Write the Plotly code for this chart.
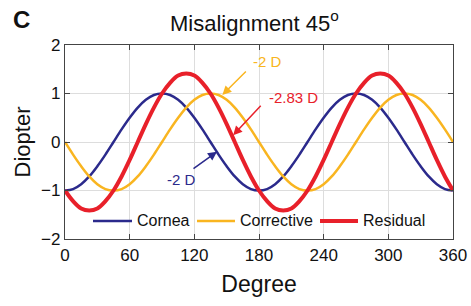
import plotly.graph_objects as go

degree = [0, 7.5, 15, 22.5, 30, 37.5, 45, 52.5, 60, 67.5, 75, 82.5, 90, 97.5, 105, 112.5, 120, 127.5, 135, 142.5, 150, 157.5, 165, 172.5, 180,
          187.5, 195, 202.5, 210, 217.5, 225, 232.5, 240, 247.5, 255, 262.5, 270, 277.5, 285, 292.5, 300, 307.5, 315, 322.5, 330, 337.5, 345, 352.5, 360]

cornea = [-1, -0.97, -0.87, -0.71, -0.5, -0.26, 0, 0.26, 0.5, 0.71, 0.87, 0.97, 1, 0.97, 0.87, 0.71, 0.5, 0.26, 0, -0.26, -0.5, -0.71, -0.87, -0.97, -1,
          -0.97, -0.87, -0.71, -0.5, -0.26, 0, 0.26, 0.5, 0.71, 0.87, 0.97, 1, 0.97, 0.87, 0.71, 0.5, 0.26, 0, -0.26, -0.5, -0.71, -0.87, -0.97, -1]

corrective = [0, -0.26, -0.5, -0.71, -0.87, -0.97, -1, -0.97, -0.87, -0.71, -0.5, -0.26, 0, 0.26, 0.5, 0.71, 0.87, 0.97, 1, 0.97, 0.87, 0.71, 0.5, 0.26, 0,
              -0.26, -0.5, -0.71, -0.87, -0.97, -1, -0.97, -0.87, -0.71, -0.5, -0.26, 0, 0.26, 0.5, 0.71, 0.87, 0.97, 1, 0.97, 0.87, 0.71, 0.5, 0.26, 0]

residual = [-1, -1.22, -1.37, -1.41, -1.37, -1.22, -1, -0.71, -0.37, 0, 0.37, 0.71, 1, 1.22, 1.37, 1.41, 1.37, 1.22, 1, 0.71, 0.37, 0, -0.37, -0.71, -1,
            -1.22, -1.37, -1.41, -1.37, -1.22, -1, -0.71, -0.37, 0, 0.37, 0.71, 1, 1.22, 1.37, 1.41, 1.37, 1.22, 1, 0.71, 0.37, 0, -0.37, -0.71, -1]

series_names = ["Cornea", "Corrective", "Residual"]
x_ticks = [0, 60, 120, 180, 240, 300, 360]
y_ticks = [-2, -1, 0, 1, 2]

C_CORNEA = "#2B2A8C"
C_CORR = "#F9B520"
C_RES = "#E8202A"
FONT = "Liberation Sans, Arial, sans-serif"

colors = [C_CORNEA, C_CORR, C_RES]
widths = [2.5, 2.5, 4]

fig = go.Figure()
for name, ys, col, w in zip(series_names, [cornea, corrective, residual], colors, widths):
    fig.add_trace(go.Scatter(x=degree, y=ys, mode="lines", name=name, showlegend=False,
                             line=dict(color=col, width=w, shape="spline")))

axis_common = dict(showgrid=True, gridcolor="#DDDDDD", gridwidth=1, zeroline=False,
                   showline=True, linecolor="#444444", linewidth=1.2, mirror="ticks",
                   ticks="inside", ticklen=5, tickcolor="#444444", automargin=False,
                   tickfont=dict(size=17, color="#111111", family=FONT))

fig.update_xaxes(range=[0, 360], tickvals=x_ticks,
                 title=dict(text="Degree", font=dict(size=23, color="#111111", family=FONT), standoff=12),
                 **axis_common)
fig.update_yaxes(range=[-2, 2], tickvals=y_ticks,
                 title=dict(text="Diopter", font=dict(size=22, color="#111111", family=FONT), standoff=4),
                 **axis_common)

# annotations with arrows
fig.add_annotation(x=146, y=0.97, xref="x", yref="y", text="", showarrow=True,
                   ax=25, ay=-25, arrowcolor=C_CORR, arrowhead=2, arrowsize=1.2, arrowwidth=1.5)
fig.add_annotation(x=173, y=1.65, xref="x", yref="y", text="-2 D", showarrow=False,
                   font=dict(size=15, color=C_CORR, family=FONT), xanchor="left")

fig.add_annotation(x=156, y=0.14, xref="x", yref="y", text="", showarrow=True,
                   ax=29, ay=-31, arrowcolor=C_RES, arrowhead=2, arrowsize=1.2, arrowwidth=1.5)
fig.add_annotation(x=187, y=0.92, xref="x", yref="y", text="-2.83 D", showarrow=False,
                   font=dict(size=15, color=C_RES, family=FONT), xanchor="left")

fig.add_annotation(x=141, y=-0.2, xref="x", yref="y", text="", showarrow=True,
                   ax=-25, ay=18, arrowcolor=C_CORNEA, arrowhead=2, arrowsize=1.2, arrowwidth=1.5)
fig.add_annotation(x=93, y=-0.78, xref="x", yref="y", text="-2 D", showarrow=False,
                   font=dict(size=15, color=C_CORNEA, family=FONT), xanchor="left")

# custom legend (inside the plot, bottom)
PW, PL = 388.0, 65.0
leg_y = 0.093
leg_line_x = [(93, 132), (197, 235), (320, 358)]
for name, col, w, (x0, x1) in zip(series_names, colors, widths, leg_line_x):
    fig.add_shape(type="line", xref="paper", yref="paper",
                  x0=(x0 - PL) / PW, x1=(x1 - PL) / PW, y0=leg_y, y1=leg_y,
                  line=dict(color=col, width=w))
    fig.add_annotation(x=(x1 + 3 - PL) / PW, y=leg_y, xref="paper", yref="paper", text=name,
                       showarrow=False, xanchor="left", yanchor="middle",
                       font=dict(size=16, color="#111111", family=FONT))

# panel label
fig.add_annotation(x=-0.14, y=1.21, xref="paper", yref="paper", text="<b>C</b>", showarrow=False,
                   font=dict(size=24, color="#111111", family=FONT), xanchor="left", yanchor="top")

fig.update_layout(
    width=471, height=306,
    margin=dict(l=65, r=18, t=45, b=67),
    paper_bgcolor="white", plot_bgcolor="white",
    title=dict(text="Misalignment 45<sup>o</sup>", x=0.54, xanchor="center", y=0.925, yanchor="middle",
               font=dict(size=22, color="#111111", family=FONT)),
    showlegend=False,
)

fig.write_html("out.html", config={"displayModeBar": False},
               post_script="document.body.style.margin='0px';document.body.style.overflow='hidden';")
